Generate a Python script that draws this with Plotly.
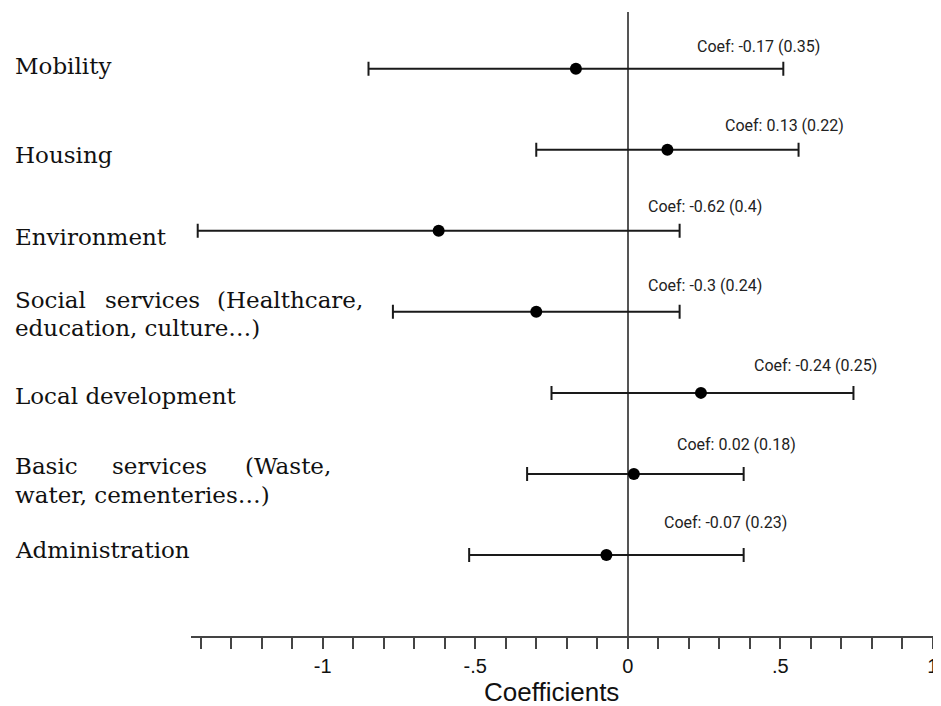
import plotly.graph_objects as go

# ---------------- data ----------------
categories = [
    "Mobility",
    "Housing",
    "Environment",
    "Social services (Healthcare, education, culture…)",
    "Local development",
    "Basic services (Waste, water, cementeries…)",
    "Administration",
]
coef = [-0.17, 0.13, -0.62, -0.30, 0.24, 0.02, -0.07]
ci_low = [-0.85, -0.30, -1.41, -0.77, -0.25, -0.33, -0.52]
ci_high = [0.51, 0.56, 0.17, 0.17, 0.74, 0.38, 0.38]
coef_labels = [
    "Coef: -0.17 (0.35)",
    "Coef: 0.13 (0.22)",
    "Coef: -0.62 (0.4)",
    "Coef: -0.3 (0.24)",
    "Coef: -0.24 (0.25)",
    "Coef: 0.02 (0.18)",
    "Coef: -0.07 (0.23)",
]
tick_values = [-1.4, -1.3, -1.2, -1.1, -1.0, -0.9, -0.8, -0.7, -0.6, -0.5, -0.4, -0.3,
               -0.2, -0.1, 0.0, 0.1, 0.2, 0.3, 0.4, 0.5, 0.6, 0.7, 0.8, 0.9, 1.0]
tick_labels = {-1.0: "-1", -0.5: "-.5", 0.0: "0", 0.5: ".5", 1.0: "1"}
x_title = "Coefficients"

# ---------------- styling / layout helpers ----------------
# the page body has an 8px default margin; compensate so the plot lands
# where it sits in the reference
OFF = 8
W, H = 941 - OFF, 706 - OFF
L, R, T = 191 - OFF, 0, 12 - OFF
plot_w = W - L - R
plot_h = 624
B = H - T - plot_h

n = len(categories)
ypos = [n - i for i in range(n)]  # top row = n

# coef label placement (data-x center, pixel shift above the row)
coef_label_x = [0.427, 0.514, 0.254, 0.253, 0.617, 0.358, 0.322]
coef_label_dy = [22, 24, 24, 26, 27, 29, 32]

# category label lines: (pixel shift from row, [(text, x_px in page, anchor), ...])
label_lines = [
    [(3, [("Mobility", 13, "left")])],
    [(-5, [("Housing", 13, "left")])],
    [(-6, [("Environment", 13, "left")])],
    [(12, [("Social", 13, "left"), ("services", 152.5, "center"), ("(Healthcare,", 365, "right")]),
     (-16, [("education, culture…)", 13, "left")])],
    [(-3, [("Local development", 13, "left")])],
    [(7.5, [("Basic", 13, "left"), ("services", 159, "center"), ("(Waste,", 333, "right")]),
     (-21, [("water, cementeries…)", 13, "left")])],
    [(5, [("Administration", 13, "left")])],
]

def px_to_paper_x(px):
    return (px - OFF - L) / plot_w

def py_to_paper_y(py):
    return (OFF + T + plot_h - py) / plot_h

fig = go.Figure()
fig.add_trace(go.Scatter(
    x=coef,
    y=ypos,
    mode="markers",
    marker=dict(size=12, color="#000000"),
    error_x=dict(
        type="data",
        symmetric=False,
        array=[h - c for h, c in zip(ci_high, coef)],
        arrayminus=[c - l for c, l in zip(coef, ci_low)],
        color="#1a1a1a",
        thickness=2,
        width=7,
    ),
    showlegend=False,
    hoverinfo="skip",
))

annotations = []
for i in range(n):
    annotations.append(dict(
        x=coef_label_x[i], y=ypos[i], xref="x", yref="y",
        text=coef_labels[i], showarrow=False,
        xanchor="center", yanchor="middle", yshift=coef_label_dy[i],
        font=dict(family="Roboto", size=16, color="#222222"),
    ))
    for dy, words in label_lines[i]:
        for txt, xp, anc in words:
            annotations.append(dict(
                x=px_to_paper_x(xp), y=ypos[i], xref="paper", yref="y",
                text=txt, showarrow=False,
                xanchor=anc, yanchor="middle", yshift=dy,
                font=dict(family="DejaVu Serif", size=23, color="#111111"),
            ))

annotations.append(dict(
    x=px_to_paper_x(551.5), y=py_to_paper_y(692), xref="paper", yref="paper",
    text=x_title, showarrow=False, xanchor="center", yanchor="middle",
    font=dict(family="Liberation Sans", size=26, color="#111111"),
))

fig.update_layout(
    width=W, height=H,
    margin=dict(l=L, r=R, t=T, b=B, pad=0),
    paper_bgcolor="white", plot_bgcolor="white",
    annotations=annotations,
    xaxis=dict(
        range=[-1.432, 1.027],
        showgrid=False,
        zeroline=True, zerolinecolor="#555555", zerolinewidth=1.5,
        showline=True, linecolor="#444444", linewidth=1.5,
        ticks="outside", ticklen=11, tickwidth=1.5, tickcolor="#444444",
        tickmode="array",
        tickvals=tick_values,
        ticktext=[tick_labels.get(round(v, 1), "") for v in tick_values],
        tickfont=dict(family="Liberation Sans", size=20, color="#111111"),
        fixedrange=True,
    ),
    yaxis=dict(
        range=[0, 7.70],
        showgrid=False, zeroline=False, showline=False,
        showticklabels=False, ticks="",
        fixedrange=True,
    ),
)

fig.write_html("out.html")
